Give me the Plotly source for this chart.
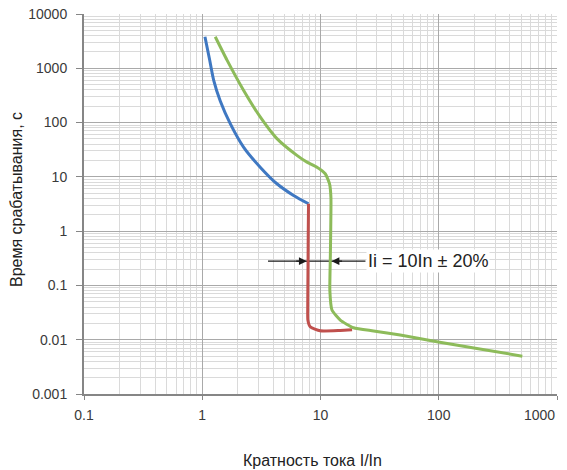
import math
import plotly.graph_objects as go

# ---- data ----
blue_x = [1.054, 1.15, 1.25, 1.42, 1.725, 2.234, 3.09, 4.28, 5.92, 7.92]
blue_y = [3810, 1500, 600, 250, 95.7, 35.4, 15.1, 7.46, 4.54, 3.19]

red_x = [7.92, 7.88, 7.85, 7.82, 7.8, 7.82, 8.18, 9.95, 14.7, 18.5]
red_y = [3.19, 1.0, 0.3, 0.1, 0.04, 0.023, 0.0173, 0.0146, 0.0148, 0.0152]

green_x = [1.288, 1.62, 2.234, 3.09, 4.28, 6.32, 7.68, 9.33, 10.97, 11.93, 12.25, 12.2, 12.1,
           12.0, 12.5, 14.7, 19.0, 28.1, 47.2, 99, 210, 509]
green_y = [3810, 1413, 394, 127, 50.6, 24.9, 18.7, 15.1, 11.4, 7.46, 4.2, 1.0, 0.3,
           0.08, 0.0352, 0.023, 0.0166, 0.0145, 0.0122, 0.00904, 0.0069, 0.00498]

x_ticks = [0.1, 1, 10, 100, 1000]
x_ticktext = ["0.1", "1", "10", "100", ""]
x_last_label = "1000"
y_ticks = [0.001, 0.01, 0.1, 1, 10, 100, 1000, 10000]
y_ticktext = ["0.001", "0.01", "0.1", "1", "10", "100", "1000", "10000"]

marker_x = [3.6, 24.0]
marker_y = [0.28, 0.28]
red_arrow_x = 7.65
green_arrow_x = 12.4
label_x = 24.4
label_text = "Ii = 10In ± 20%"

x_title = "Кратность тока I/In"
y_title = "Время срабатывания, с"

FONT = "Liberation Sans, Arial, sans-serif"
MAJOR = "#a9a9a9"
MINOR = "#dadada"
AXIS = "#868686"
TICKC = "#3a3a3a"

fig = go.Figure()
fig.add_trace(go.Scatter(x=marker_x, y=marker_y, mode="lines",
                         line=dict(color="#1a1a1a", width=1.2), showlegend=False, hoverinfo="skip"))
fig.add_trace(go.Scatter(x=blue_x, y=blue_y, mode="lines",
                         line=dict(color="#3f78c2", width=3, shape="spline", smoothing=0.7), showlegend=False))
fig.add_trace(go.Scatter(x=red_x, y=red_y, mode="lines",
                         line=dict(color="#c0504d", width=3, shape="spline", smoothing=0.5), showlegend=False))
fig.add_trace(go.Scatter(x=green_x, y=green_y, mode="lines",
                         line=dict(color="#8dbb5a", width=3, shape="spline", smoothing=0.5), showlegend=False))

axis_common = dict(
    type="log", tickmode="array", automargin=False, ticklabeloverflow="allow",
    showgrid=True, gridcolor=MAJOR, gridwidth=1,
    minor=dict(dtick="D1", tick0=0, showgrid=True, gridcolor=MINOR, gridwidth=1, ticks=""),
    showline=True, linecolor=AXIS, linewidth=2,
    ticks="outside", tickcolor=AXIS, tickwidth=1,
    tickfont=dict(family=FONT, size=14, color=TICKC),
    zeroline=False,
)

fig.update_xaxes(range=[-1, 3], tickvals=x_ticks, ticktext=x_ticktext, ticklen=4,
                 ticklabelstandoff=3, **axis_common)
fig.update_yaxes(range=[-3, 4], tickvals=y_ticks, ticktext=y_ticktext, ticklen=6,
                 ticklabelstandoff=6, **axis_common)

# last x tick label kept inside the plot width (as in the reference)
fig.add_annotation(x=1.0, y=-(415 - 394) / 380, xref="paper", yref="paper", text=x_last_label,
                   showarrow=False, xanchor="right", yanchor="middle",
                   font=dict(family=FONT, size=14, color=TICKC))

ly = math.log10(marker_y[0])
fig.add_annotation(x=math.log10(red_arrow_x), y=ly, xref="x", yref="y", text="",
                   showarrow=True, ax=-12, ay=0, arrowhead=2, arrowsize=1.3, arrowwidth=1.2,
                   arrowcolor="#1a1a1a")
fig.add_annotation(x=math.log10(green_arrow_x), y=ly, xref="x", yref="y", text="",
                   showarrow=True, ax=12, ay=0, arrowhead=2, arrowsize=1.3, arrowwidth=1.2,
                   arrowcolor="#1a1a1a")
fig.add_annotation(x=math.log10(label_x), y=ly, xref="x", yref="y", text=label_text,
                   showarrow=False, xanchor="left", yanchor="middle", bgcolor="white",
                   font=dict(family=FONT, size=18, color="#222222"))

fig.add_annotation(x=(312 - 84) / 473, y=-(460 - 394) / 380, xref="paper", yref="paper",
                   text=x_title, showarrow=False, xanchor="center", yanchor="middle",
                   font=dict(family=FONT, size=16, color="#222222"))
fig.add_annotation(x=(16 - 84) / 473, y=(394 - 200) / 380, xref="paper", yref="paper",
                   text=y_title, showarrow=False, textangle=-90, xanchor="center", yanchor="middle",
                   font=dict(family=FONT, size=16, color="#222222"))

# page body has an 8px margin; size/margins chosen so the plot area lands at x 84-557, y 14-394
fig.update_layout(
    width=559, height=462,
    margin=dict(l=76, r=10, t=6, b=76),
    paper_bgcolor="white", plot_bgcolor="white",
    showlegend=False,
)

fig.write_html("out.html")
